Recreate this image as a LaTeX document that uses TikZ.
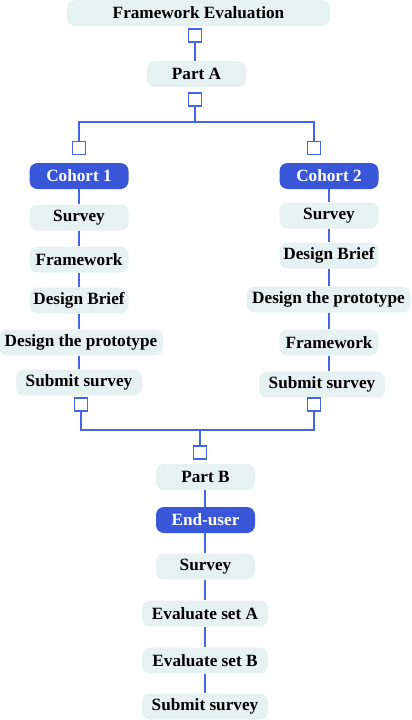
\documentclass[tikz,border=0pt]{standalone}
\usepackage{fontspec}
\setmainfont{Liberation Serif}
\definecolor{boxfill}{HTML}{E6F2F2}
\definecolor{cohortblue}{HTML}{3A56D8}
\definecolor{linkblue}{HTML}{4466E6}
\begin{document}
\begin{tikzpicture}[x=1pt,y=-1pt]
%%%%%%%%%%%%%%%%%%%%%%%%%%%%%%%%%%%%%%%%%%%%%%%%%%%%%%%%
% STYLE
\tikzstyle{stage}=[rectangle,rounded corners=8pt,fill=boxfill,minimum width=99pt,minimum height=26pt,inner sep=2pt,font=\fontsize{17.2}{19}\selectfont\bfseries]
\tikzstyle{group}=[stage,fill=cohortblue,text=white]
\tikzstyle{port}=[rectangle,draw=linkblue,line width=1.4pt,fill=white,minimum size=13pt,inner sep=0pt]
\tikzstyle{wide}=[minimum width=126pt]
\tikzstyle{wider}=[minimum width=164pt]

\tikzset{link/.style={draw=linkblue,line width=1.4pt}}

\useasboundingbox (0,0) rectangle (412,720);
%%%%%%%%%%%%%%%%%%%%%%%%%%%%%%%%%%%%%%%%%%%%%%%%%%%%%%%%
% NODES
\node[stage,minimum width=263pt] (FE) at (198.5,13) {Framework Evaluation};
\node[port] (pFE) at (195,35.5) {};
\node[stage] (PA) at (196.5,74) {Part A};
\node[port] (pPA) at (195,99.5) {};
\coordinate (jA) at (195,122);

\node[port] (pC1) at (79,148) {};
\node[port] (pC2) at (314,148) {};
\node[group] (C1) at (79,176) {Cohort 1};
\node[group] (C2) at (329,176) {Cohort 2};

% cohort 1
\node[stage] (S1) at (79,217.5) {Survey};
\node[stage] (F1) at (79,259.5) {Framework};
\node[stage] (B1) at (79,300.5) {Design Brief};
\node[stage,wider] (P1) at (81,342.5) {Design the prototype};
\node[stage,wide] (U1) at (79,382.5) {Submit survey};

% cohort 2
\node[stage] (S2) at (329,215.5) {Survey};
\node[stage] (B2) at (329,255.5) {Design Brief};
\node[stage,wider] (P2) at (328.5,299.5) {Design the prototype};
\node[stage] (F2) at (329,342.5) {Framework};
\node[stage,wide] (U2) at (322,384.5) {Submit survey};

\node[port] (pU1) at (81,404.5) {};
\node[port] (pU2) at (314,404.5) {};
\coordinate (jB) at (200,430);
\node[port] (pPB) at (200,452.5) {};

% part B
\node[stage] (PB) at (205.5,477) {Part B};
\node[group] (EU) at (205.5,520) {End-user};
\node[stage] (S3) at (205.5,566.5) {Survey};
\node[stage,wide] (EA) at (205,613.5) {Evaluate set A};
\node[stage,wide] (EB) at (205,660.5) {Evaluate set B};
\node[stage,wide] (U3) at (205,706.5) {Submit survey};

%%%%%%%%%%%%%%%%%%%%%%%%%%%%%%%%%%%%%%%%%%%%%%%%%%%%%%%%
% LINKS
\draw[link] (pFE) -- (pFE |- PA.north);
\draw[link] (pPA) -- (jA);
\draw[link] (pC1) |- (jA) -| (pC2);

\draw[link] (C1) -- (S1) -- (F1) -- (B1);
\draw[link] (B1) -- (B1 |- P1.north);
\draw[link] (B1 |- P1.south) -- (U1);
\draw[link] (C2) -- (S2) -- (B2);
\draw[link] (B2) -- (B2 |- P2.north);
\draw[link] (B2 |- P2.south) -- (F2);
\draw[link] (F2) -- (F2 |- U2.north);

\draw[link] (pU1) |- (jB) -| (pU2);
\draw[link] (jB) -- (pPB);

\draw[link] (EA |- PB.south) -- (EA |- EU.north);
\draw[link] (EA |- EU.south) -- (EA |- S3.north);
\draw[link] (EA |- S3.south) -- (EA |- EA.north);
\draw[link] (EA) -- (EB) -- (U3);
\end{tikzpicture}
\end{document}
